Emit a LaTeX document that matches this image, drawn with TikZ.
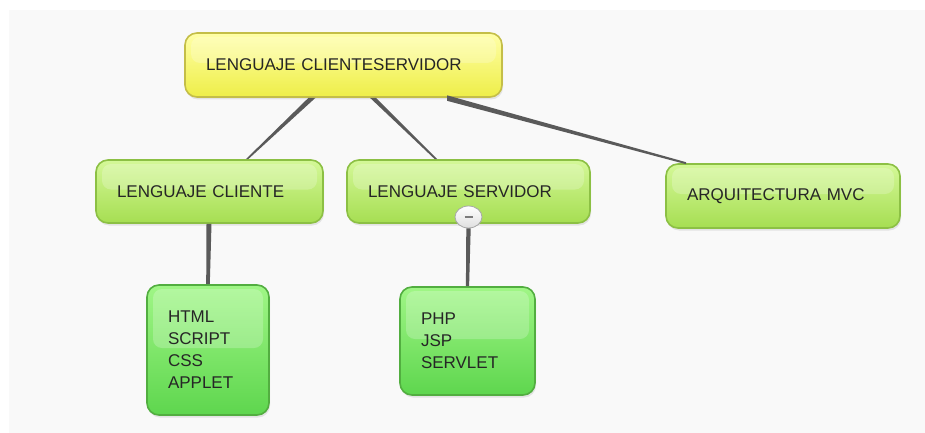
\documentclass[tikz,border=0pt]{standalone}
\usepackage{fontspec}
\setmainfont{Liberation Sans}
\usetikzlibrary{calc,shapes.geometric,shadows}
\definecolor{panel}{HTML}{F9F9F9}
\definecolor{txt}{HTML}{262626}
\definecolor{ytop}{HTML}{FFFFA8}
\definecolor{ybot}{HTML}{EEEE48}
\definecolor{yborder}{HTML}{C4BE48}
\definecolor{gtop}{HTML}{D4F898}
\definecolor{gbot}{HTML}{A6DE52}
\definecolor{gborder}{HTML}{8CC044}
\definecolor{ltop}{HTML}{A0F686}
\definecolor{lbot}{HTML}{5ED64E}
\definecolor{lborder}{HTML}{52AE40}
\definecolor{linkc}{HTML}{5A5A5A}
\tikzset{
  box/.style={draw, line width=1.6pt, rounded corners=12pt, align=left,
    inner sep=0pt, font=\fontsize{17}{22}\selectfont, text=txt,
    drop shadow={opacity=0.18, shadow xshift=1pt, shadow yshift=-2.5pt},
    path picture={\fill[white,opacity=0.22,rounded corners=9pt]
      ($(path picture bounding box.north west)+(6pt,-4pt)$) rectangle
      ($(path picture bounding box.east)+(-6pt,2pt)$);}},
  rootbox/.style={box, top color=ytop, bottom color=ybot, draw=yborder},
  midbox/.style={box, top color=gtop, bottom color=gbot, draw=gborder},
  leafbox/.style={box, top color=ltop, bottom color=lbot, draw=lborder},
  link/.style={fill=linkc},
}
\begin{document}
\begin{tikzpicture}[x=1pt,y=-1pt]
\useasboundingbox (0,0) rectangle (925,433);
\fill[white] (0,0) rectangle (925,433);
\fill[panel] (9,10) rectangle (925,433);

% nodes
\node[rootbox, minimum width=317pt, minimum height=64pt, text width=275pt] (root) at (343.5,65) {LENGUAJE CLIENTESERVIDOR};
\node[midbox, minimum width=227pt, minimum height=63pt, text width=185pt] (cli) at (209.5,191.5) {LENGUAJE CLIENTE};
\node[midbox, minimum width=243pt, minimum height=63pt, text width=201pt] (srv) at (468.5,191.5) {LENGUAJE SERVIDOR};
\node[midbox, minimum width=234pt, minimum height=64pt, text width=192pt] (mvc) at (783,196) {ARQUITECTURA MVC};
\node[leafbox, minimum width=122pt, minimum height=130pt, text width=80pt] (html) at (208,350) {HTML\\SCRIPT\\CSS\\APPLET};
\node[leafbox, minimum width=135pt, minimum height=108pt, text width=93pt] (php) at (467.5,341) {PHP\\JSP\\SERVLET};

% badge
\node[ellipse, draw=gray!70, line width=0.8pt, top color=white, bottom color=gray!25,
  minimum width=27pt, minimum height=22pt, inner sep=0pt] (badge) at (468.5,217) {};
\draw[linkc!80, line width=2.2pt] ($(badge.center)+(-4pt,0)$) -- ($(badge.center)+(4pt,0)$);

% connector anchors
\coordinate (r1) at ($(root.south)+(-31.5,0)$);
\coordinate (r2) at ($(root.south)+(29.5,0)$);
\coordinate (r3) at ($(root.south)+(103.5,0)$);
\coordinate (c1) at ($(cli.north)+(37.5,0)$);
\coordinate (s1) at ($(srv.north)+(-32.5,0)$);
\coordinate (m1) at ($(mvc.north)+(-97,0)$);
\coordinate (c2) at ($(cli.south)+(-0.5,0)$);
\coordinate (h1) at ($(html.north)+(0,0)$);
\coordinate (p1) at ($(php.north)+(0,0)$);

% connectors (tapered)
\fill[link] ($(r1)+(-3.5,0)$) -- ($(r1)+(3.5,0)$) -- ($(c1)+(1.2,0)$) -- ($(c1)+(-1.2,0)$) -- cycle;
\fill[link] ($(r2)+(-3,0)$) -- ($(r2)+(3,0)$) -- ($(s1)+(1.2,0)$) -- ($(s1)+(-1.2,0)$) -- cycle;
\fill[link] ($(r3)+(0,-2.5)$) -- ($(r3)+(0,3)$) -- ($(m1)+(0,1)$) -- ($(m1)+(0,-1)$) -- cycle;
\fill[link] ($(c2)+(-2.5,0)$) -- ($(c2)+(2.5,0)$) -- ($(h1)+(1.8,0)$) -- ($(h1)+(-1.8,0)$) -- cycle;
\fill[link] ($(badge.south)+(-2.2,0)$) -- ($(badge.south)+(2.2,0)$) -- ($(p1)+(1.6,0)$) -- ($(p1)+(-1.6,0)$) -- cycle;
\end{tikzpicture}
\end{document}
